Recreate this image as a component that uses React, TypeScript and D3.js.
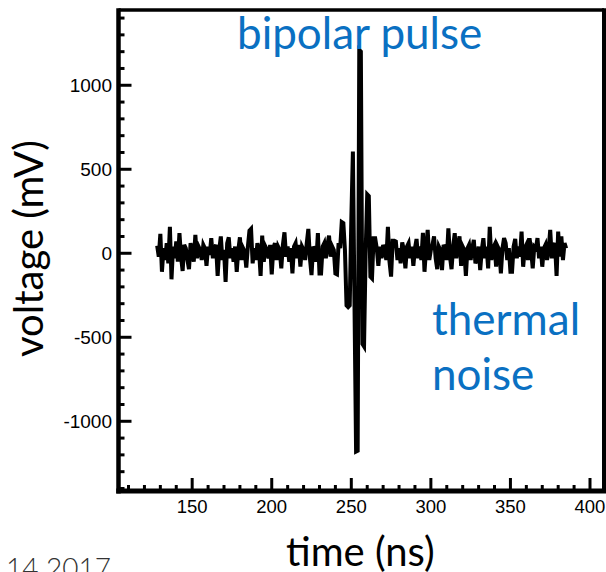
import React from "react";
import * as d3 from "d3";

// ---- data ----
const START_NS = 128; // first sample time (ns)
const STEP_NS = 1; // sample spacing (ns)
const voltageMv: number[] = [
  45, -20, 115, -110, 30, -40, 60, -60, 158, -155,
  40, -30, 70, -50, 120, -20, -105, 50, 30, -40,
  -95, 60, 10, -50, 110, -30, 40, 20, -40, 50,
  30, -75, 40, -10, 90, -30, 30, 50, -135, 20,
  100, -40, 20, -170, 60, 95, -30, 30, -50, 40,
  -110, 20, 95, -40, 30, 10, -85, 40, 135, 145,
  -60, 30, -40, 60, 20, -135, 105, -50, 40, 20,
  -30, 50, -125, 30, 60, -40, 40, 20, -90, 50,
  125, -20, 40, -50, 30, -120, 40, 60, -30, 50,
  -80, 40, 20, -40, 60, 145, -30, -130, 40, 20,
  -50, 120, -120, -120, 40, 60, -30, 50, 105, -20,
  40, 20, -120, -125, 60, 30, 186, 180, 20, -310,
  -320, -310, 200, 605, -300, -1180, -1175, 1210, 1200, -540,
  -555, 0, 350, 340, -140, -150, 90, 90, 30, -75,
  40, -30, 50, 20, -40, 158, -50, -139, 75, 75,
  70, -40, 30, -60, 65, 20, -90, 40, 60, -30,
  40, -75, 30, 85, -30, 40, -40, 122, -110, 30,
  139, -40, 20, 50, 100, -30, -95, 40, 20, -100,
  50, 30, -40, 149, -20, -95, 40, 120, -30, 50,
  100, -75, 40, 20, -135, 30, 50, -40, 30, 80,
  -60, -30, 40, -100, 20, 90, -30, 40, -90, 158,
  -40, 30, 50, -80, 40, 20, -120, 30, 90, 60,
  -40, 30, -110, -110, 40, 85, -30, 40, -20, 129,
  -80, 30, 50, -40, 90, 20, -90, 40, 30, 90,
  -30, 40, -80, 30, 50, -40, 20, 139, -30, 40,
  60, -135, 129, -20, 100, -40, 60, 30,
];
const xMajorTicks = [150, 200, 250, 300, 350, 400];
const xMinorTicks = [110, 120, 130, 140, 160, 170, 180, 190, 210, 220, 230, 240, 260, 270, 280, 290, 310, 320, 330, 340, 360, 370, 380, 390];
const yMajorTicks = [-1000, -500, 0, 500, 1000];
const yMinorTicks = [-1400, -1300, -1200, -1100, -900, -800, -700, -600, -400, -300, -200, -100, 100, 200, 300, 400, 600, 700, 800, 900, 1100, 1200, 1300, 1400];
const xDomain = [103.7, 408.8];
const yDomain = [-1415, 1448];
const xTitle = "time (ns)";
const yTitle = "voltage (mV)";
const annotTop = "bipolar pulse";
const annotRight = ["thermal", "noise"];
const footer = "14 2017";

const W = 606;
const H = 572;
const L = 118.5, R = 604, T = 10, B = 491;

export default function App() {
  const x = d3.scaleLinear().domain(xDomain).range([L, R]);
  const y = d3.scaleLinear().domain(yDomain).range([B, T]);
  const pts = voltageMv.map((v, i) => [START_NS + i * STEP_NS, v] as [number, number]);
  const line = d3.line<[number, number]>().x((d) => x(d[0])).y((d) => y(d[1]));
  const tickFont = "'Liberation Sans', Arial, Helvetica, sans-serif";
  const titleFont = "Lato, 'Open Sans', sans-serif";
  const blue = "#0a70c2";
  return (
    <svg width={W} height={H} style={{ position: "absolute", left: 0, top: 0, background: "#fff" }}>
      <rect x={0} y={0} width={W} height={H} fill="#fff" />
      {/* signal */}
      <path d={line(pts) || ""} fill="none" stroke="#000" strokeWidth={4} strokeLinejoin="miter" />
      {/* frame */}
      <line x1={L} x2={R} y1={T} y2={T} stroke="#000" strokeWidth={3.5} />
      <line x1={R} x2={R} y1={T - 1.75} y2={B} stroke="#000" strokeWidth={4} />
      <line x1={L} x2={L} y1={T - 1.75} y2={B + 2.5} stroke="#000" strokeWidth={4.5} />
      <line x1={L - 2.25} x2={R + 2} y1={B} y2={B} stroke="#000" strokeWidth={5} />
      {/* y ticks */}
      {yMinorTicks.map((v) => (
        <line key={"ym" + v} x1={L} x2={L + 6} y1={y(v)} y2={y(v)} stroke="#000" strokeWidth={3} />
      ))}
      {yMajorTicks.map((v) => (
        <g key={"yM" + v}>
          <line x1={L} x2={L + 13} y1={y(v)} y2={y(v)} stroke="#000" strokeWidth={3} />
          <text x={112} y={y(v)} dy="0.36em" textAnchor="end" fontFamily={tickFont} fontSize={19} fill="#000">
            {v}
          </text>
        </g>
      ))}
      {/* x ticks */}
      {xMinorTicks.map((v) => (
        <line key={"xm" + v} x1={x(v)} x2={x(v)} y1={B} y2={B - 6} stroke="#000" strokeWidth={3} />
      ))}
      {xMajorTicks.map((v) => (
        <g key={"xM" + v}>
          <line x1={x(v)} x2={x(v)} y1={B} y2={B - 13} stroke="#000" strokeWidth={3} />
          <text x={x(v)} y={513} textAnchor="middle" fontFamily={tickFont} fontSize={18.5} fill="#000">
            {v}
          </text>
        </g>
      ))}
      {/* titles */}
      <text x={286} y={566} fontFamily={titleFont} fontSize={40} fill="#000">
        {xTitle}
      </text>
      <text transform="translate(43,357) rotate(-90)" fontFamily={titleFont} fontSize={40} fill="#000">
        {yTitle}
      </text>
      {/* annotations */}
      <text x={237} y={49} fontFamily={titleFont} fontSize={44} fill={blue}>
        {annotTop}
      </text>
      <text x={432} y={335} fontFamily={titleFont} fontSize={44} fill={blue}>
        {annotRight[0]}
      </text>
      <text x={432} y={390} fontFamily={titleFont} fontSize={44} fill={blue}>
        {annotRight[1]}
      </text>
      <text x={6} y={578} fontFamily={titleFont} fontSize={28} fontWeight={300} fill="#333">
        {footer}
      </text>
    </svg>
  );
}
